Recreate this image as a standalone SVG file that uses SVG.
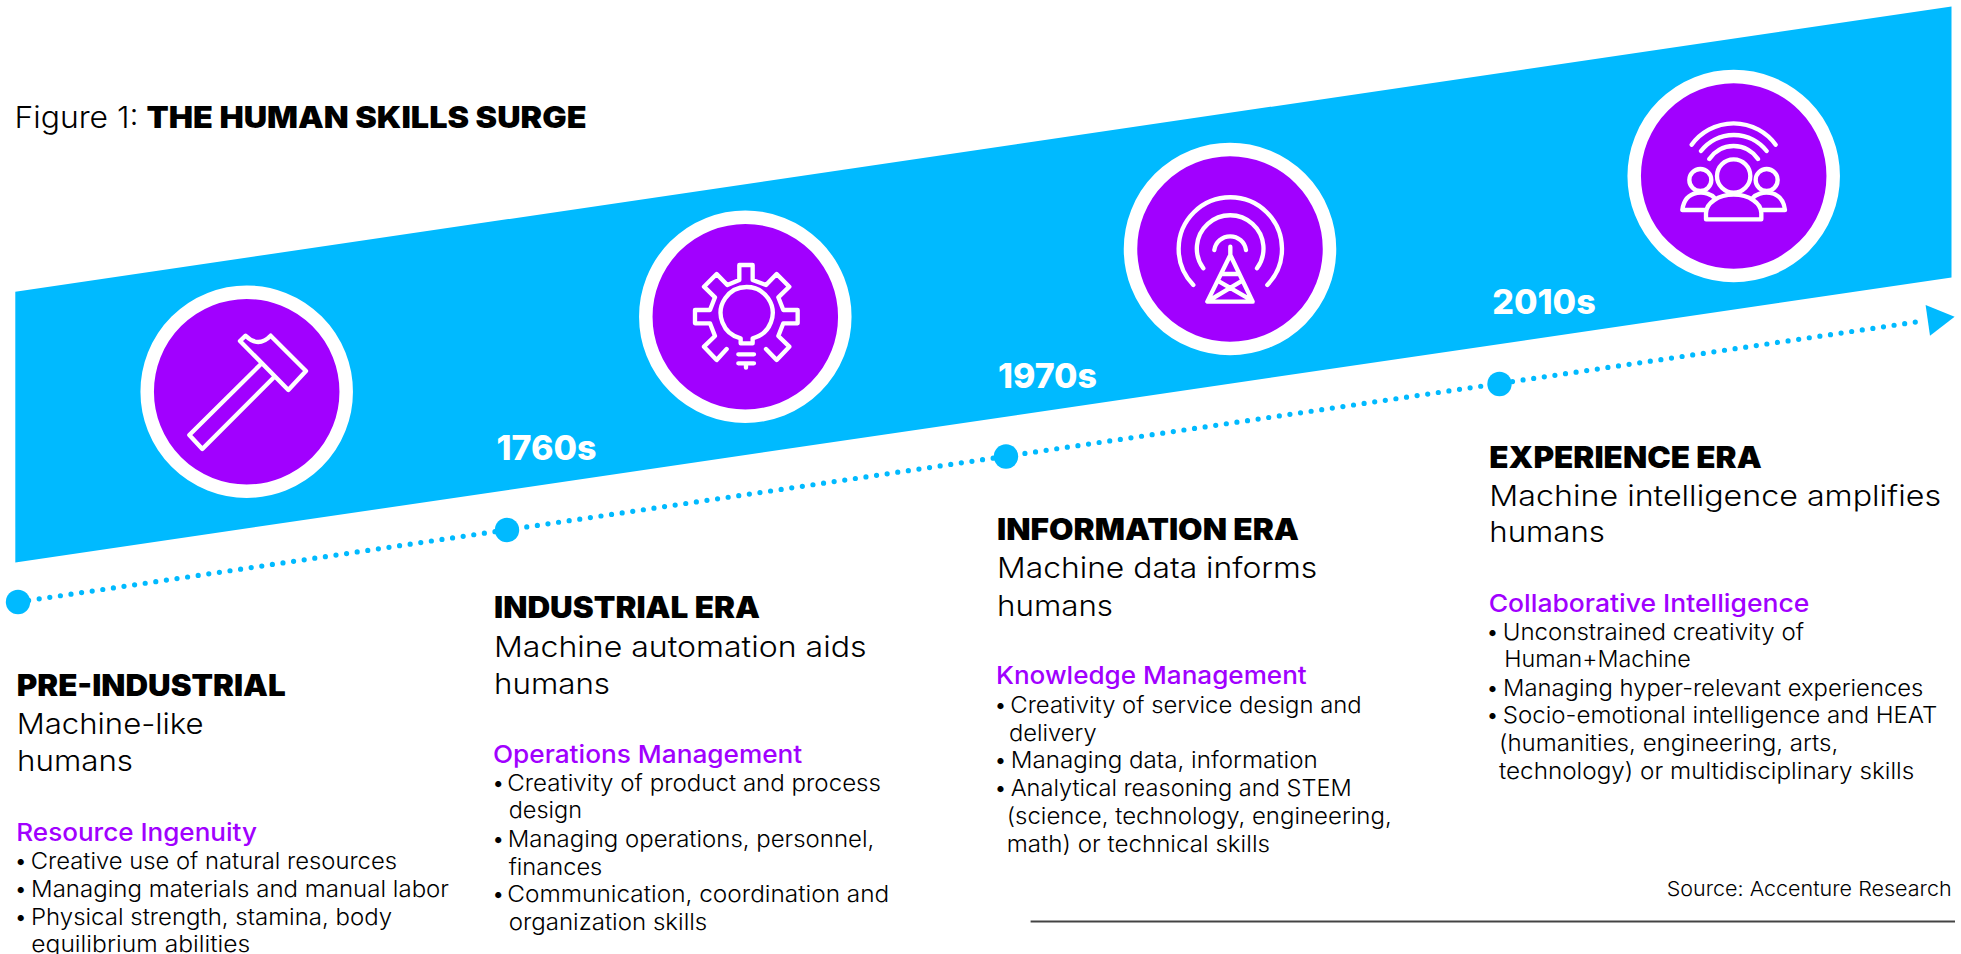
<svg xmlns="http://www.w3.org/2000/svg" width="1961" height="954" viewBox="0 0 1961 954">
<style>
text{font-family:Inter,"Liberation Sans",sans-serif;fill:#000}
.h{font-size:29.6px;font-weight:900}
.s{font-size:28.5px;font-weight:300}
.p{font-size:24.3px;font-weight:500;fill:#a100ff}
.b{font-size:23px;font-weight:300}
.y{font-size:34px;font-weight:800;fill:#fff}
.ring{fill:#a100ff;stroke:#fff;stroke-width:13.5}
.dot{fill:#00baff}
.ic{fill:none;stroke:#fff;stroke-width:13;stroke-linecap:round;stroke-linejoin:round}
</style>
<defs>
<marker id="arrow" markerUnits="userSpaceOnUse" markerWidth="40" markerHeight="40" refX="0" refY="20" orient="0" overflow="visible"><path d="M0,4.4L29,16.1L4.4,35.1Z" fill="#00baff"/></marker>
</defs>
<rect width="1961" height="954" fill="#fff"/>
<polygon id="band" points="15.3,291.7 1951.5,6.5 1951.5,277.5 15.3,562.5" fill="#00baff"/>
<text id="title" y="128.3" style="font-size:30.3px"><tspan x="14.5" textLength="133" lengthAdjust="spacingAndGlyphs" font-weight="300">Figure 1: </tspan><tspan x="146.5" textLength="440" lengthAdjust="spacingAndGlyphs" font-weight="900">THE HUMAN SKILLS SURGE</tspan></text>
<g id="connectors">
<line x1="18" y1="602" x2="1925.6" y2="320.6" stroke="#00baff" stroke-width="5.2" stroke-linecap="round" stroke-dasharray="0 10.714" marker-end="url(#arrow)"/>
</g>
<g id="pre-industrial">
<circle class="ring" cx="246.7" cy="391.7" r="99.5"/>
<path class="ic" transform="translate(120,290) scale(.3333)" d="M360,153L377,137Q415,175 452,137L558,243L505,300ZM420,225L208,435L247,477L462,262"/>
<circle class="dot" cx="18" cy="602" r="12.2"/>
<text class="h" x="16.7" y="696.3" textLength="269" lengthAdjust="spacingAndGlyphs">PRE-INDUSTRIAL</text>
<text class="s" x="16.7" y="733.8" textLength="187" lengthAdjust="spacingAndGlyphs">Machine-like</text>
<text class="s" x="17" y="771.2" textLength="116" lengthAdjust="spacingAndGlyphs">humans</text>
<text class="p" x="16.3" y="841" textLength="240.7" lengthAdjust="spacingAndGlyphs">Resource Ingenuity</text>
<text class="b" y="868.5"><tspan x="14.3">• </tspan><tspan x="30.7" textLength="366.3" lengthAdjust="spacingAndGlyphs">Creative use of natural resources</tspan></text>
<text class="b" y="896.5"><tspan x="14.3">• </tspan><tspan x="31" textLength="418" lengthAdjust="spacingAndGlyphs">Managing materials and manual labor</tspan></text>
<text class="b" y="924.5"><tspan x="14.3">• </tspan><tspan x="31" textLength="361" lengthAdjust="spacingAndGlyphs">Physical strength, stamina, body</tspan></text>
<text class="b" x="31.3" y="952.2" textLength="219" lengthAdjust="spacingAndGlyphs">equilibrium abilities</text>
</g>
<g id="industrial">
<circle class="ring" cx="745.3" cy="316.7" r="99.5"/>
<path class="ic" transform="translate(630,200) scale(.3333)" d="M290,447L260,480L222,440L255,408L240,370H195V330H240L255,292L222,260L260,222L292,255L328,240V195H368V240L408,255L440,222L478,260L445,292L460,330H503V370H460L445,408L478,440L440,480L408,447M332,415A78,78 0 1 1 368,415V430H332ZM325,463H372M325,490H372M348,490V503"/>
<circle class="dot" cx="507" cy="530" r="12.2"/>
<text class="y" x="496.5" y="460" textLength="100" lengthAdjust="spacingAndGlyphs">1760s</text>
<text class="h" x="494" y="618.3" textLength="266" lengthAdjust="spacingAndGlyphs">INDUSTRIAL ERA</text>
<text class="s" x="494" y="656.5" textLength="372.5" lengthAdjust="spacingAndGlyphs">Machine automation aids</text>
<text class="s" x="494" y="693.8" textLength="116" lengthAdjust="spacingAndGlyphs">humans</text>
<text class="p" x="493" y="762.7" textLength="309.3" lengthAdjust="spacingAndGlyphs">Operations Management</text>
<text class="b" y="790.5"><tspan x="491.7">• </tspan><tspan x="507.3" textLength="373.7" lengthAdjust="spacingAndGlyphs">Creativity of product and process</tspan></text>
<text class="b" x="508.7" y="818.2" textLength="73.3" lengthAdjust="spacingAndGlyphs">design</text>
<text class="b" y="846.5"><tspan x="491.7">• </tspan><tspan x="507.7" textLength="366.6" lengthAdjust="spacingAndGlyphs">Managing operations, personnel,</tspan></text>
<text class="b" x="508.7" y="874.5" textLength="93.6" lengthAdjust="spacingAndGlyphs">finances</text>
<text class="b" y="902.2"><tspan x="491.7">• </tspan><tspan x="507.3" textLength="382" lengthAdjust="spacingAndGlyphs">Communication, coordination and</tspan></text>
<text class="b" x="508.7" y="929.8" textLength="198.6" lengthAdjust="spacingAndGlyphs">organization skills</text>
</g>
<g id="information">
<circle class="ring" cx="1230" cy="249" r="99.5"/>
<path class="ic" transform="translate(1120,150) scale(.3333)" d="M283,300A48,48 0 0 1 378,300M250,355A100,100 0 1 1 411,355M220,405A155,155 0 1 1 442,405M331,290V315L262,455H398L331,315M305,372H357M298,395L385,445M362,395L278,445"/>
<circle class="dot" cx="1006" cy="456.5" r="12.2"/>
<text class="y" x="998" y="388" textLength="99" lengthAdjust="spacingAndGlyphs">1970s</text>
<text class="h" x="997" y="540.3" textLength="302" lengthAdjust="spacingAndGlyphs">INFORMATION ERA</text>
<text class="s" x="997" y="578.2" textLength="320.3" lengthAdjust="spacingAndGlyphs">Machine data informs</text>
<text class="s" x="997" y="615.5" textLength="116" lengthAdjust="spacingAndGlyphs">humans</text>
<text class="p" x="996" y="684.3" textLength="310.7" lengthAdjust="spacingAndGlyphs">Knowledge Management</text>
<text class="b" y="712.5"><tspan x="994">• </tspan><tspan x="1010.3" textLength="351.4" lengthAdjust="spacingAndGlyphs">Creativity of service design and</tspan></text>
<text class="b" x="1009" y="740.5" textLength="87.7" lengthAdjust="spacingAndGlyphs">delivery</text>
<text class="b" y="768.2"><tspan x="994">• </tspan><tspan x="1010.7" textLength="307" lengthAdjust="spacingAndGlyphs">Managing data, information</tspan></text>
<text class="b" y="796.2"><tspan x="994">• </tspan><tspan x="1010.7" textLength="341" lengthAdjust="spacingAndGlyphs">Analytical reasoning and STEM</tspan></text>
<text class="b" x="1006.7" y="823.8" textLength="385" lengthAdjust="spacingAndGlyphs">(science, technology, engineering,</text>
<text class="b" x="1006.7" y="852.2" textLength="263.3" lengthAdjust="spacingAndGlyphs">math) or technical skills</text>
</g>
<g id="experience">
<circle class="ring" cx="1733.7" cy="176" r="99.5"/>
<path class="ic" transform="translate(1620,70) scale(.3333)" d="M215,224A156,156 0 0 1 467,224M243,243A125,125 0 0 1 440,243M268,267A88,88 0 0 1 414,267M258,448V430A83,56 0 0 1 424,430V448ZM187,420C195,355 265,360 285,385M187,420H258M495,420C487,355 417,360 397,385M495,420H424"/>
<circle class="ic" transform="translate(1620,70) scale(.3333)" cx="341" cy="318" r="50"/>
<circle class="ic" transform="translate(1620,70) scale(.3333)" cx="241" cy="330" r="33"/>
<circle class="ic" transform="translate(1620,70) scale(.3333)" cx="440" cy="330" r="33"/>
<circle class="dot" cx="1499.5" cy="384" r="12.2"/>
<text class="y" x="1492.3" y="314" textLength="103.4" lengthAdjust="spacingAndGlyphs">2010s</text>
<text class="h" x="1489.3" y="468.3" textLength="272.4" lengthAdjust="spacingAndGlyphs">EXPERIENCE ERA</text>
<text class="s" x="1489.3" y="505.5" textLength="451.7" lengthAdjust="spacingAndGlyphs">Machine intelligence amplifies</text>
<text class="s" x="1489.3" y="542.2" textLength="115.7" lengthAdjust="spacingAndGlyphs">humans</text>
<text class="p" x="1488.7" y="611.7" textLength="320.6" lengthAdjust="spacingAndGlyphs">Collaborative Intelligence</text>
<text class="b" y="639.5"><tspan x="1486">• </tspan><tspan x="1502.7" textLength="301.3" lengthAdjust="spacingAndGlyphs">Unconstrained creativity of</tspan></text>
<text class="b" x="1504.3" y="667.2" textLength="186.4" lengthAdjust="spacingAndGlyphs">Human+Machine</text>
<text class="b" y="695.5"><tspan x="1486">• </tspan><tspan x="1503" textLength="420.3" lengthAdjust="spacingAndGlyphs">Managing hyper-relevant experiences</tspan></text>
<text class="b" y="723.2"><tspan x="1486">• </tspan><tspan x="1502.7" textLength="434.6" lengthAdjust="spacingAndGlyphs">Socio-emotional intelligence and HEAT</tspan></text>
<text class="b" x="1499" y="751.2" textLength="339.3" lengthAdjust="spacingAndGlyphs">(humanities, engineering, arts,</text>
<text class="b" x="1499" y="778.8" textLength="415.3" lengthAdjust="spacingAndGlyphs">technology) or multidisciplinary skills</text>
</g>
<text id="source" x="1666.7" y="896.2" textLength="284.9" lengthAdjust="spacingAndGlyphs" style="font-size:20.6px;font-weight:300">Source: Accenture Research</text>
<line id="rule" x1="1030.6" y1="921.5" x2="1955" y2="921.5" stroke="#444" stroke-width="2"/>
</svg>
